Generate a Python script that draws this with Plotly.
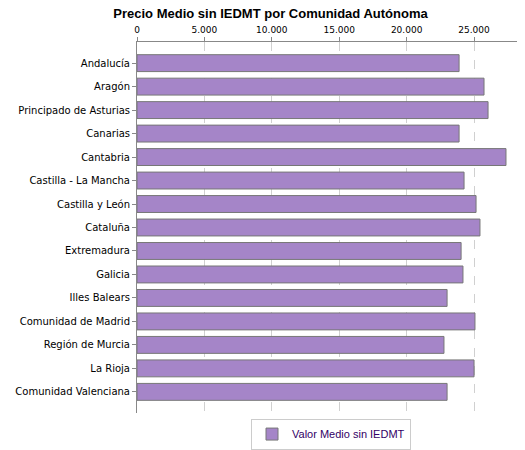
import plotly.graph_objects as go

regions = ["Andalucía","Aragón","Principado de Asturias","Canarias","Cantabria",
           "Castilla - La Mancha","Castilla y León","Cataluña","Extremadura","Galicia",
           "Illes Balears","Comunidad de Madrid","Región de Murcia","La Rioja","Comunidad Valenciana"]
values = [23890,25740,26040,23890,27370,24260,25150,25440,24040,24180,23000,25070,22770,25000,23000]
tickvals = [0,5000,10000,15000,20000,25000]
ticktext = ["0","5.000","10.000","15.000","20.000","25.000"]

fig = go.Figure(go.Bar(
    y=regions, x=values, orientation="h", name="Valor Medio sin IEDMT",
    marker=dict(color="#a585c8", line=dict(color="#777777", width=1)), width=0.72,
))
fig.update_layout(
    width=525, height=450, paper_bgcolor="white", plot_bgcolor="white",
    margin=dict(l=129, r=8, t=34, b=28, pad=0),
    title=dict(text="<b>Precio Medio sin IEDMT por Comunidad Autónoma</b>", x=0.5, xanchor="center",
               y=0.998, yanchor="top", pad=dict(t=0, b=0),
               font=dict(family="Liberation Sans, Arial", size=13, color="black")),
    font=dict(family="DejaVu Sans", size=10, color="black"),
    showlegend=True,
    legend=dict(orientation="h", x=0.5, xanchor="center", y=-0.015, yanchor="top",
                bordercolor="#cccccc", borderwidth=1, itemwidth=30, tracegroupgap=0,
                font=dict(family="Liberation Sans, Arial", size=11, color="#330066")),
)
fig.update_xaxes(side="top", range=[0, 28780], tickvals=tickvals, ticktext=ticktext, automargin=False,
                 showgrid=True, gridcolor="#d0d0d0", griddash="dash", showline=True, linecolor="#888888",
                 ticks="outside", ticklen=4, tickcolor="#888888", zeroline=False, tickfont=dict(size=9))
fig.update_yaxes(range=[14.9, -0.9], automargin=False, showline=True, linecolor="#888888", ticks="outside", ticklen=4,
                 tickcolor="#888888", tickfont=dict(size=10))
fig.write_html("out.html")
